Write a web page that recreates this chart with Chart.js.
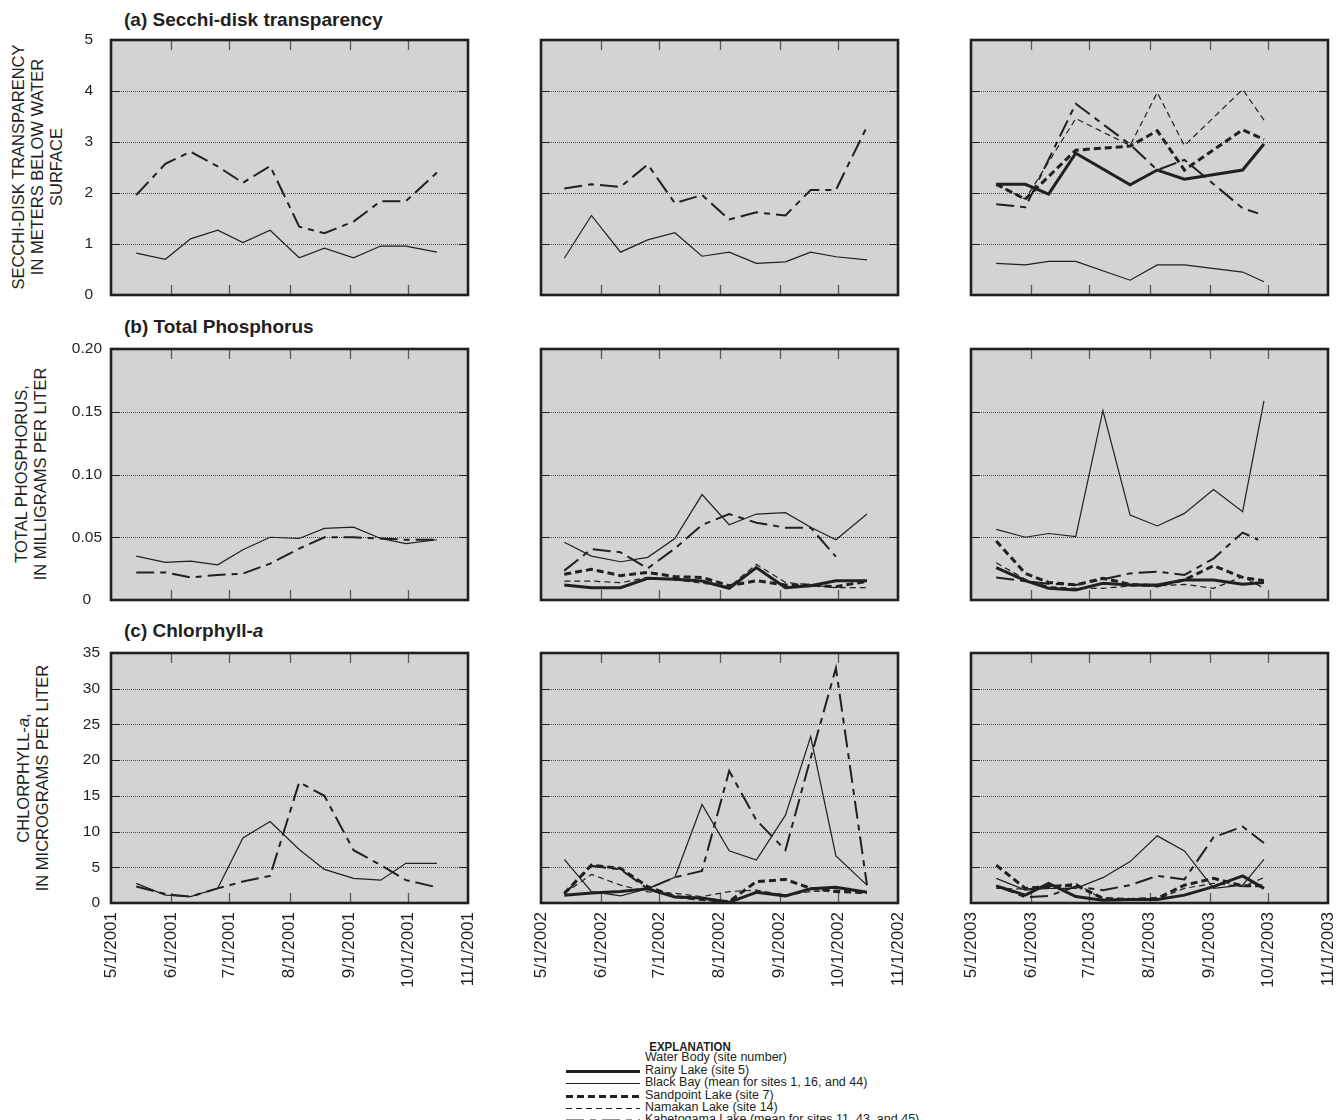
<!DOCTYPE html>
<html>
<head>
<meta charset="utf-8">
<script src="https://cdn.jsdelivr.net/npm/chart.js@4.4.1/dist/chart.umd.min.js"></script>
<style>
  html, body { margin: 0; padding: 0; background: #fff; }
  #page {
    position: relative; width: 1341px; height: 1120px; overflow: hidden;
    font-family: 'Liberation Sans', Arial, sans-serif;
    color: #231f20;
  }
  #page canvas { position: absolute; }
  .ptitle { position: absolute; font-weight: bold; font-size: 19px; white-space: nowrap; transform-origin: 0 50%; }
  .ytitle {
    position: absolute; transform: translate(-50%, -50%) rotate(-90deg);
    text-align: center; font-size: 16.5px; line-height: 19px; white-space: nowrap;
  }
  .legend { position: absolute; left: 0; top: 0; font-size: 12.5px; }
  .legend .head { position: absolute; left: 690px; top: 1039px; transform: translateX(-50%) scaleX(0.85); font-weight: bold; font-size: 13.5px; white-space: nowrap; }
  .legend .row { position: absolute; left: 566px; height: 13px; white-space: nowrap; }
  .legend .row svg { position: absolute; left: 0; top: 0; }
  .legend .row span { position: absolute; left: 79px; top: -1px; line-height: 13px; }
</style>
</head>
<body>
<div id="page">
  <div class="ptitle" style="left:124px; top:9px;">(a) Secchi-disk transparency</div>
  <div class="ptitle" style="left:124px; top:316px;">(b) Total Phosphorus</div>
  <div class="ptitle" style="left:124px; top:620px;">(c) Chlorphyll-<i>a</i></div>

  <div class="ytitle" style="left:37px; top:167px;">SECCHI-DISK TRANSPARENCY<br>IN METERS BELOW WATER<br>SURFACE</div>
  <div class="ytitle" style="left:31px; top:474px;">TOTAL PHOSPHORUS,<br>IN MILLIGRAMS PER LITER</div>
  <div class="ytitle" style="left:33px; top:778px;">CHLORPHYLL-<i>a</i>,<br>IN MICROGRAMS PER LITER</div>

  <div class="legend">
    <div class="head">EXPLANATION</div>
    <div class="row" style="top:1052px;"><span>Water Body (site number)</span></div>
    <div class="row" style="top:1065px;"><svg width="76" height="13"><line x1="0" y1="6.5" x2="74" y2="6.5" stroke="#231f20" stroke-width="3"/></svg><span>Rainy Lake (site 5)</span></div>
    <div class="row" style="top:1077px;"><svg width="76" height="13"><line x1="0" y1="6.5" x2="74" y2="6.5" stroke="#231f20" stroke-width="1.2"/></svg><span>Black Bay (mean for sites 1, 16, and 44)</span></div>
    <div class="row" style="top:1090px;"><svg width="76" height="13"><line x1="0" y1="6.5" x2="74" y2="6.5" stroke="#231f20" stroke-width="3" stroke-dasharray="7 4"/></svg><span>Sandpoint Lake (site 7)</span></div>
    <div class="row" style="top:1102px;"><svg width="76" height="13"><line x1="0" y1="6.5" x2="74" y2="6.5" stroke="#231f20" stroke-width="1.2" stroke-dasharray="6 4"/></svg><span>Namakan Lake (site 14)</span></div>
    <div class="row" style="top:1114px;"><svg width="76" height="13"><line x1="0" y1="6.5" x2="74" y2="6.5" stroke="#231f20" stroke-width="2" stroke-dasharray="18 6 6 6"/></svg><span>Kabetogama Lake (mean for sites 11, 43, and 45)</span></div>
  </div>
</div>

<script>
// ---- sampling dates (one list per open-water season) ----
const dates2001 = ['2001-05-14','2001-05-29','2001-06-11','2001-06-25','2001-07-08','2001-07-22','2001-08-06','2001-08-19','2001-09-03','2001-09-17','2001-09-30','2001-10-16'];
const dates2002 = ['2002-05-13','2002-05-27','2002-06-11','2002-06-25','2002-07-09','2002-07-23','2002-08-06','2002-08-20','2002-09-04','2002-09-17','2002-09-30','2002-10-16'];
const dates2003 = ['2003-05-14','2003-05-29','2003-06-10','2003-06-24','2003-07-08','2003-07-22','2003-08-05','2003-08-19','2003-09-03','2003-09-18','2003-09-26','2003-09-29'];

// ---- x-axis tick labels (month starts) ----
const ticks2001 = ['5/1/2001','6/1/2001','7/1/2001','8/1/2001','9/1/2001','10/1/2001','11/1/2001'];
const ticks2002 = ['5/1/2002','6/1/2002','7/1/2002','8/1/2002','9/1/2002','10/1/2002','11/1/2002'];
const ticks2003 = ['5/1/2003','6/1/2003','7/1/2003','8/1/2003','9/1/2003','10/1/2003','11/1/2003'];

// ---- (a) Secchi-disk transparency, meters ----
const secchi01Black   = [0.82, 0.70, 1.10, 1.27, 1.03, 1.27, 0.73, 0.92, 0.73, 0.96, 0.96, 0.84];
const secchi01Kab     = [1.96, 2.57, 2.81, 2.52, 2.20, 2.53, 1.34, 1.21, 1.44, 1.84, 1.84, 2.40];

const secchi02Black   = [0.72, 1.56, 0.84, 1.08, 1.22, 0.76, 0.84, 0.62, 0.65, 0.84, 0.75, 0.69];
const secchi02Kab     = [2.09, 2.17, 2.12, 2.56, 1.80, 1.96, 1.48, 1.62, 1.56, 2.06, 2.06, 3.30];

const secchi03Rainy   = [2.17, 2.17, 1.98, 2.78, null, 2.16, 2.45, 2.27, null, 2.45, null, 2.96];
const secchi03Black   = [0.62, 0.59, 0.66, 0.66, null, 0.29, 0.59, 0.59, null, 0.45, null, 0.26];
const secchi03Sand    = [2.17, 1.88, null, 2.84, null, 2.92, 3.22, 2.45, null, 3.24, null, 3.05];
const secchi03Namakan = [2.17, 1.88, null, 3.46, null, 2.93, 3.97, 2.93, null, 4.03, null, 3.43];
const secchi03Kab     = [1.78, 1.72, null, 3.75, null, 2.95, 2.45, 2.65, null, 1.70, 1.60, null];

// ---- (b) Total phosphorus, mg/L ----
const tp01Black   = [0.035, 0.030, 0.031, 0.028, 0.040, 0.050, 0.049, 0.057, 0.058, 0.049, 0.045, 0.048];
const tp01Kab     = [0.022, 0.022, 0.018, 0.020, 0.021, 0.029, 0.041, 0.050, 0.050, 0.049, 0.048, 0.048];

const tp02Rainy   = [0.012, 0.0098, 0.0098, 0.0173, 0.0165, 0.0151, 0.0093, 0.0258, 0.0098, 0.0114, 0.0154, 0.0154];
const tp02Black   = [0.046, 0.035, 0.0305, 0.034, 0.049, 0.084, 0.060, 0.0685, 0.0696, 0.058, 0.048, 0.0685];
const tp02Sand    = [0.0205, 0.0244, 0.0194, 0.022, 0.0186, 0.018, 0.0114, 0.0154, 0.012, 0.012, 0.0106, 0.015];
const tp02Namakan = [0.0151, 0.0151, 0.0138, 0.018, 0.016, 0.0133, 0.0106, 0.0284, 0.014, 0.012, 0.0098, 0.0098];
const tp02Kab     = [0.0234, 0.0406, 0.038, 0.0252, 0.041, 0.0598, 0.0685, 0.0616, 0.0576, 0.0576, 0.0345, null];

const tp03Rainy   = [0.0258, 0.0154, 0.0093, 0.008, 0.0133, 0.012, 0.012, 0.016, 0.016, 0.0125, null, 0.014];
const tp03Black   = [0.0563, 0.050, 0.053, 0.0505, 0.151, 0.0677, 0.059, 0.069, 0.088, 0.0704, null, 0.1586];
const tp03Sand    = [0.047, 0.0212, 0.014, 0.012, 0.0173, 0.0125, 0.0112, 0.016, 0.0273, 0.018, null, 0.0154];
const tp03Namakan = [0.0297, 0.0165, 0.0106, 0.0093, 0.0093, 0.0112, 0.0112, 0.0125, 0.0093, 0.0186, null, 0.0093];
const tp03Kab     = [0.018, 0.015, 0.013, 0.012, 0.0165, 0.0212, 0.0226, 0.020, 0.033, 0.0537, 0.048, null];

// ---- (c) Chlorophyll-a, ug/L ----
const chl01Black   = [2.75, 1.1, 0.9, 2.05, 9.1, 11.4, 7.5, 4.7, 3.45, 3.2, 5.55, 5.55];
const chl01Kab     = [2.3, 1.25, 0.9, 2.05, 3.0, 3.8, 16.9, 15.0, 7.4, 5.3, 3.2, 2.2];

const chl02Rainy   = [1.1, 1.4, 1.6, 2.0, 0.85, 0.7, 0.1, 1.5, 1.0, 2.0, 2.2, 1.5];
const chl02Black   = [6.1, 1.6, 1.0, 2.0, 3.6, 13.8, 7.3, 6.0, 12.3, 23.3, 6.6, 2.5];
const chl02Sand    = [1.35, 5.3, 4.85, 2.3, 0.9, 0.5, 0.2, 3.0, 3.3, 2.05, 1.6, 1.45];
const chl02Namakan = [1.35, 4.0, 2.5, 1.55, 1.35, 0.9, 1.6, 1.8, 1.1, 1.6, 1.8, 1.5];
const chl02Kab     = [1.25, 5.2, 4.7, 2.0, 3.6, 4.5, 18.5, 11.6, 7.4, 20.3, 32.9, 2.5];

const chl03Rainy   = [2.4, 1.1, 2.75, 0.9, 0.4, 0.5, 0.5, 1.1, 2.3, 3.8, null, 2.05];
const chl03Black   = [3.45, 1.8, 2.05, 2.05, 3.55, 5.8, 9.4, 7.3, 2.05, 2.5, null, 6.1];
const chl03Sand    = [5.3, 2.05, 2.3, 2.5, 0.65, 0.5, 0.65, 2.5, 3.45, 2.4, null, 2.4];
const chl03Namakan = [2.05, 1.95, 2.3, 2.75, 0.5, 0.5, 0.5, 2.05, 2.75, 2.3, null, 3.55];
const chl03Kab     = [2.4, 0.8, 1.0, 2.3, 1.8, 2.5, 3.8, 3.3, 9.2, 10.7, null, 8.4];

// ---- drawing ----
const INK = '#231f20';
const FONT = "'Liberation Sans', Arial, sans-serif";

// line style of each water body
const STYLE = {
  rainy:   { borderWidth: 3,   borderDash: [] },
  black:   { borderWidth: 1.2, borderDash: [] },
  sand:    { borderWidth: 3,   borderDash: [7, 4] },
  namakan: { borderWidth: 1.2, borderDash: [6, 4] },
  kab:     { borderWidth: 2,   borderDash: [18, 6, 6, 6] }
};

// days since 1 May of the same year
function seasonDay(iso) {
  const [y, m, d] = iso.split('-').map(Number);
  return (Date.UTC(y, m - 1, d) - Date.UTC(y, 4, 1)) / 86400000;
}
function tickDay(label) {
  const [m, d, y] = label.split('/').map(Number);
  return (Date.UTC(y, m - 1, d) - Date.UTC(y, 4, 1)) / 86400000;
}

function series(key, dates, values) {
  return {
    data: dates.map((d, i) => ({ x: seasonDay(d), y: values[i] })),
    borderColor: INK, backgroundColor: INK,
    borderWidth: STYLE[key].borderWidth, borderDash: STYLE[key].borderDash,
    borderCapStyle: 'butt', borderJoinStyle: 'miter',
    pointRadius: 0, tension: 0, spanGaps: true, fill: false
  };
}

// gray plot field, dotted grid, inward tick marks and heavy frame
const panelFrame = {
  id: 'panelFrame',
  beforeDatasetsDraw(chart) {
    const { ctx, chartArea: a, scales } = chart;
    ctx.save();
    ctx.fillStyle = '#d1d3d4';
    ctx.fillRect(a.left, a.top, a.right - a.left, a.bottom - a.top);
    const ys = scales.y;
    ys.ticks.forEach(t => {
      if (t.value <= ys.min || t.value >= ys.max) return;
      const py = Math.round(ys.getPixelForValue(t.value)) + 0.5;
      ctx.strokeStyle = '#4d4d4f';
      ctx.lineWidth = 1;
      ctx.setLineDash([1, 1]);
      ctx.beginPath(); ctx.moveTo(a.left, py); ctx.lineTo(a.right, py); ctx.stroke();
      ctx.setLineDash([]);
      ctx.strokeStyle = INK;
      ctx.lineWidth = 1.2;
      ctx.beginPath();
      ctx.moveTo(a.left, py); ctx.lineTo(a.left + 9, py);
      ctx.moveTo(a.right - 9, py); ctx.lineTo(a.right, py);
      ctx.stroke();
    });
    const xs = scales.x;
    ctx.strokeStyle = '#58595b';
    ctx.lineWidth = 1.3;
    xs.ticks.forEach(t => {
      if (t.value <= xs.min || t.value >= xs.max) return;
      const px = Math.round(xs.getPixelForValue(t.value)) + 0.5;
      ctx.beginPath();
      ctx.moveTo(px, a.top); ctx.lineTo(px, a.top + 10);
      ctx.moveTo(px, a.bottom); ctx.lineTo(px, a.bottom - 10);
      ctx.stroke();
    });
    ctx.restore();
  },
  afterDatasetsDraw(chart) {
    const { ctx, chartArea: a } = chart;
    ctx.save();
    ctx.strokeStyle = INK;
    ctx.lineWidth = 2.6;
    ctx.strokeRect(a.left, a.top, a.right - a.left, a.bottom - a.top);
    ctx.restore();
  }
};

const COL_LEFT = [111, 541, 971];
const AREA_W = 357;
const ROW_TOP = [40, 349, 653];
const ROW_BOTTOM = [295, 600, 903];
const Y_AXIS_W = 60, PAD = 30;

const ROWS = [
  { min: 0, max: 5, step: 1, fmt: v => String(v), align: 'center', pad: 18 },
  { min: 0, max: 0.2, step: 0.05, fmt: v => (v === 0 ? '0' : v.toFixed(2)), align: 'center', pad: 9 },
  { min: 0, max: 35, step: 5, fmt: v => String(v), align: 'near', pad: 11 }
];

function panel(row, col, tickLabels, datasets) {
  const xAxisH = row === 2 ? 92 : 0;
  const cv = document.createElement('canvas');
  const w = PAD + Y_AXIS_W + AREA_W + PAD;
  const h = PAD + (ROW_BOTTOM[row] - ROW_TOP[row]) + xAxisH + PAD;
  cv.width = w; cv.height = h;
  cv.style.left = (COL_LEFT[col] - PAD - Y_AXIS_W) + 'px';
  cv.style.top = (ROW_TOP[row] - PAD) + 'px';
  cv.style.width = w + 'px'; cv.style.height = h + 'px';
  document.getElementById('page').appendChild(cv);
  const r = ROWS[row];
  const tickVals = tickLabels.map(tickDay);
  new Chart(cv, {
    type: 'line',
    data: { datasets },
    plugins: [panelFrame],
    options: {
      responsive: false, animation: false, devicePixelRatio: 1,
      layout: { padding: PAD },
      plugins: { legend: { display: false }, tooltip: { enabled: false } },
      events: [],
      scales: {
        x: {
          type: 'linear', min: tickVals[0], max: tickVals[tickVals.length - 1],
          grid: { display: false, drawTicks: false }, border: { display: false },
          afterBuildTicks: s => { s.ticks = tickVals.map(v => ({ value: v })); },
          afterFit: s => { s.height = xAxisH; },
          ticks: {
            display: row === 2, autoSkip: false, minRotation: 90, maxRotation: 90,
            padding: 9, color: INK, font: { family: FONT, size: 17 },
            callback: (v, i) => tickLabels[i]
          }
        },
        y: {
          min: r.min, max: r.max,
          grid: { display: false, drawTicks: false }, border: { display: false },
          afterFit: s => { s.width = Y_AXIS_W; },
          ticks: {
            display: col === 0, stepSize: r.step, crossAlign: r.align, padding: r.pad,
            color: INK, font: { family: FONT, size: 15.5 },
            callback: v => r.fmt(v)
          }
        }
      }
    }
  });
}

// row (a)
panel(0, 0, ticks2001, [series('black', dates2001, secchi01Black), series('kab', dates2001, secchi01Kab)]);
panel(0, 1, ticks2002, [series('black', dates2002, secchi02Black), series('kab', dates2002, secchi02Kab)]);
panel(0, 2, ticks2003, [
  series('black', dates2003, secchi03Black), series('namakan', dates2003, secchi03Namakan),
  series('kab', dates2003, secchi03Kab), series('sand', dates2003, secchi03Sand),
  series('rainy', dates2003, secchi03Rainy)
]);
// row (b)
panel(1, 0, ticks2001, [series('black', dates2001, tp01Black), series('kab', dates2001, tp01Kab)]);
panel(1, 1, ticks2002, [
  series('black', dates2002, tp02Black), series('namakan', dates2002, tp02Namakan),
  series('kab', dates2002, tp02Kab), series('sand', dates2002, tp02Sand),
  series('rainy', dates2002, tp02Rainy)
]);
panel(1, 2, ticks2003, [
  series('black', dates2003, tp03Black), series('namakan', dates2003, tp03Namakan),
  series('kab', dates2003, tp03Kab), series('sand', dates2003, tp03Sand),
  series('rainy', dates2003, tp03Rainy)
]);
// row (c)
panel(2, 0, ticks2001, [series('black', dates2001, chl01Black), series('kab', dates2001, chl01Kab)]);
panel(2, 1, ticks2002, [
  series('black', dates2002, chl02Black), series('namakan', dates2002, chl02Namakan),
  series('kab', dates2002, chl02Kab), series('sand', dates2002, chl02Sand),
  series('rainy', dates2002, chl02Rainy)
]);
panel(2, 2, ticks2003, [
  series('black', dates2003, chl03Black), series('namakan', dates2003, chl03Namakan),
  series('kab', dates2003, chl03Kab), series('sand', dates2003, chl03Sand),
  series('rainy', dates2003, chl03Rainy)
]);
</script>
</body>
</html>
